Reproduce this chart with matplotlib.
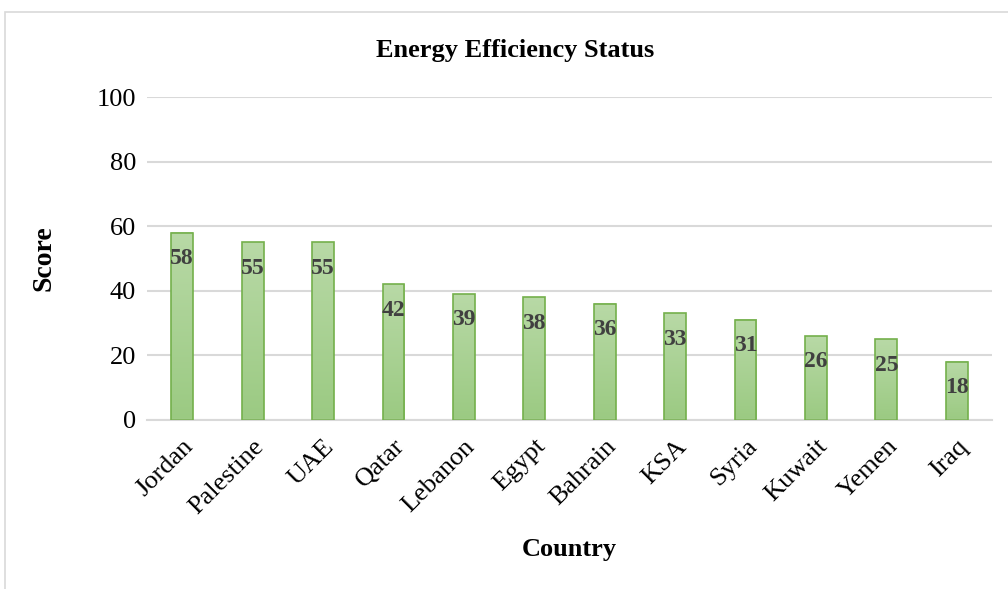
import numpy as np
import matplotlib
matplotlib.use("Agg")
import matplotlib.pyplot as plt
from matplotlib.patches import Rectangle
from matplotlib.colors import LinearSegmentedColormap

countries = ["Jordan", "Palestine", "UAE", "Qatar", "Lebanon", "Egypt",
             "Bahrain", "KSA", "Syria", "Kuwait", "Yemen", "Iraq"]
scores = [58, 55, 55, 42, 39, 38, 36, 33, 31, 26, 25, 18]
y_ticks = [0, 20, 40, 60, 80, 100]

plt.rcParams["font.family"] = ["Liberation Serif", "DejaVu Serif"]

fig = plt.figure(figsize=(10.08, 5.89), dpi=100)
ax = fig.add_axes([147 / 1008, 1 - 420 / 589, (992 - 147) / 1008, (420 - 97) / 589])

# chart border
fig.patches.append(Rectangle((5 / 1008, -0.1), 1.2, 1 - 12 / 589 + 0.1,
                             transform=fig.transFigure, fill=False,
                             edgecolor="#d9d9d9", linewidth=1.2))

x = np.arange(len(countries))
width = 0.31
grad_cmap = LinearSegmentedColormap.from_list("g", ["#9bca82", "#b8d9a6"])
grad = np.linspace(0, 1, 256).reshape(-1, 1)

bars = ax.bar(x, scores, width=width, color="none", edgecolor="#74b04c",
              linewidth=1.2, zorder=3)
for xi, v in zip(x, scores):
    ax.imshow(grad, cmap=grad_cmap, origin="lower", aspect="auto",
              extent=(xi - width / 2, xi + width / 2, 0, v), zorder=2)
    ax.annotate(f"{v}", xy=(xi, v), xytext=(0, -11), textcoords="offset points",
                ha="center", va="top", fontsize=17, fontweight="bold",
                color="#404040", zorder=4)

ax.set_xlim(-0.5, len(countries) - 0.5)
ax.set_ylim(0, 100)
ax.set_yticks(y_ticks)
ax.tick_params(axis="y", labelsize=19, length=0, pad=8)
ax.tick_params(axis="x", labelsize=19, length=0, pad=11)
ax.set_xticks(x)
ax.set_xticklabels(countries, rotation=45, ha="right", rotation_mode="anchor")
ax.yaxis.grid(True, color="#d9d9d9", linewidth=1.5, zorder=0)
ax.set_axisbelow(True)
for s in ["top", "right", "left"]:
    ax.spines[s].set_visible(False)
ax.spines["bottom"].set_color("#d9d9d9")
ax.spines["bottom"].set_linewidth(1.5)

ax.set_xlabel("Country", fontsize=19, fontweight="bold", labelpad=14)
ax.set_ylabel("Score", fontsize=20, fontweight="bold", labelpad=29)
fig.text(515 / 1008, 1 - 50 / 589, "Energy Efficiency Status", ha="center",
         va="center", fontsize=19, fontweight="bold")

fig.savefig("out.png", dpi=100)
